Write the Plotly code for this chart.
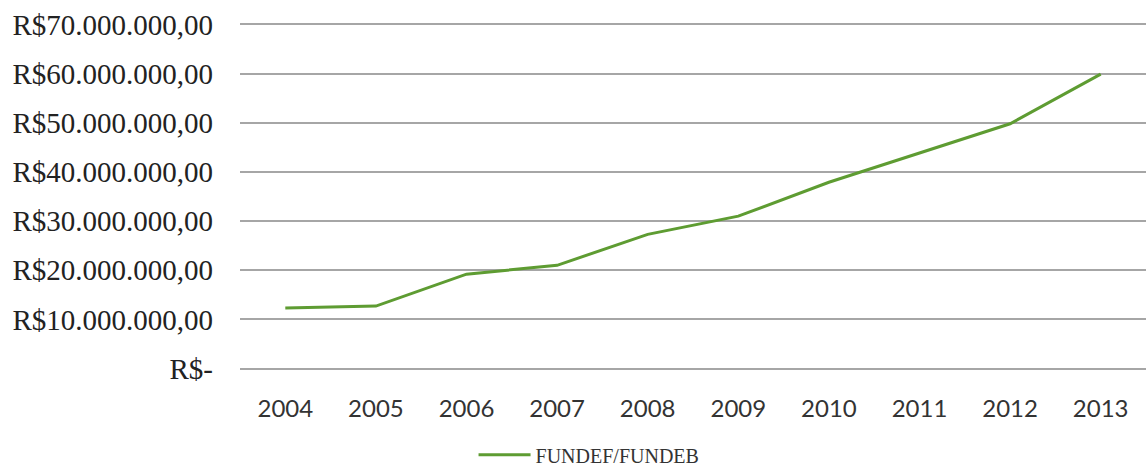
import plotly.graph_objects as go

# FUNDEF/FUNDEB transfers per year (R$)
anos = ["2004", "2005", "2006", "2007", "2008", "2009", "2010", "2011", "2012", "2013"]
valores = [12300000, 12700000, 19200000, 21000000, 27300000, 31000000,
           37900000, 43800000, 49800000, 59900000]

tick_vals = [0, 10000000, 20000000, 30000000, 40000000, 50000000, 60000000, 70000000]
tick_text = ["R$-", "R$10.000.000,00", "R$20.000.000,00", "R$30.000.000,00",
             "R$40.000.000,00", "R$50.000.000,00", "R$60.000.000,00", "R$70.000.000,00"]

fig = go.Figure()
fig.add_trace(go.Scatter(
    x=anos, y=valores, mode="lines", name="FUNDEF/FUNDEB",
    line=dict(color="#5e9c32", width=3),
))

fig.update_layout(
    width=1146, height=467,
    margin=dict(l=240, r=0, t=22, b=96),
    paper_bgcolor="white", plot_bgcolor="white",
    showlegend=True,
    legend=dict(
        orientation="h", xref="container", yref="container",
        x=0.514, xanchor="center", y=0.026, yanchor="middle",
        font=dict(family="Liberation Serif", size=20, color="#333333"),
        itemwidth=52,
    ),
    xaxis=dict(
        type="category", range=[-0.5, 9.5], showgrid=False, zeroline=False,
        showline=False, ticks="", ticklabelstandoff=21,
        tickfont=dict(family="Lato", size=24, color="#333333"),
    ),
    yaxis=dict(
        range=[-500000, 70500000], tickvals=tick_vals, ticktext=tick_text,
        showgrid=True, gridcolor="#a6a6a6", gridwidth=1.5,
        zeroline=False, showline=False, ticks="", ticklabelstandoff=26,
        tickfont=dict(family="Liberation Serif", size=29, color="#222222"),
    ),
)

fig.write_html("out.html")
